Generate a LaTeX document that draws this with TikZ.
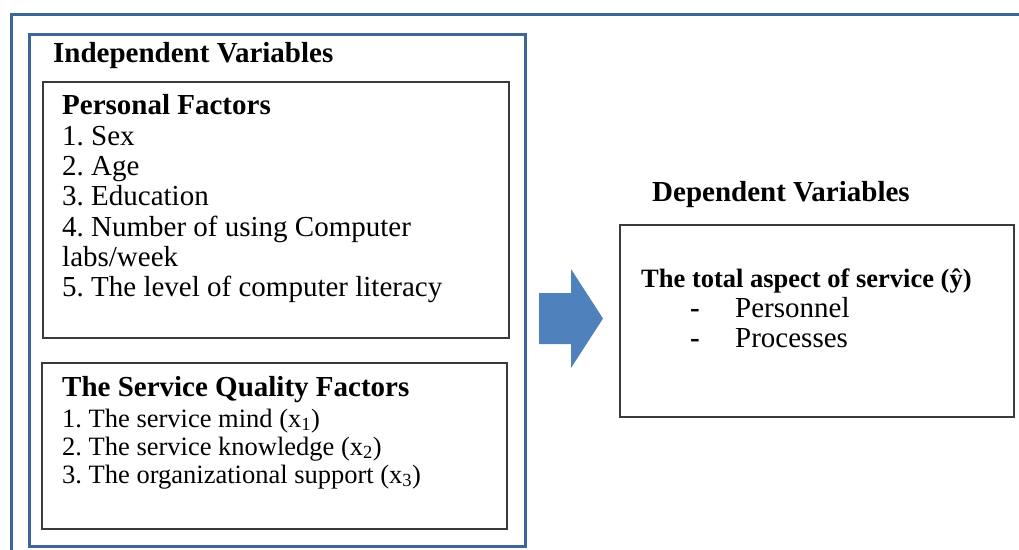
\documentclass[tikz,border=0pt]{standalone}
\usepackage{fontspec}
\setmainfont{Liberation Serif}
\definecolor{frameblue}{HTML}{3D6598}
\definecolor{arrowblue}{HTML}{4F81BD}
\definecolor{boxgray}{HTML}{3A3A3A}
\frenchspacing
\begin{document}
\begin{tikzpicture}[x=1pt,y=-1pt,
  bluebox/.style={draw=frameblue, line width=3pt, rectangle, inner sep=0pt, anchor=north west},
  factorbox/.style={draw=boxgray, line width=1.8pt, rectangle, inner sep=0pt, anchor=north west},
  heading/.style={anchor=base west, inner sep=0pt, font=\fontsize{29}{30}\selectfont\bfseries},
  entry/.style={anchor=base west, inner sep=0pt, font=\fontsize{29}{30}\selectfont},
  smallheading/.style={anchor=base west, inner sep=0pt, font=\fontsize{26.5}{28}\selectfont\bfseries},
  smallentry/.style={anchor=base west, inner sep=0pt, font=\fontsize{26.5}{28}\selectfont}]
\useasboundingbox (0,0) rectangle (1019,549);
\clip (0,0) rectangle (1019,549);

% open outer frame along the top and left
\draw[frameblue, line width=3pt] (11,560) -- (11,14) -- (1030,14);

% independent variables group
\node[bluebox, minimum width=496, minimum height=512] (indep) at (28,33) {};
\node[heading] (indeptitle) at (53,62) {Independent Variables};

% personal factors
\node[factorbox, minimum width=466, minimum height=256] (personal) at (42,81) {};
\node[heading] (pftitle) at (62,114) {Personal Factors};
\node[entry] (pf1) at (62,145) {1. Sex};
\node[entry] (pf2) at (62,175) {2. Age};
\node[entry] (pf3) at (62,205) {3. Education};
\node[entry] (pf4) at (62,236) {4. Number of using Computer};
\node[entry] (pf4b) at (62,266) {labs/week};
\node[entry] (pf5) at (62,296) {5. The level of computer literacy};

% service quality factors
\node[factorbox, minimum width=465, minimum height=166] (service) at (41,362) {};
\node[heading] (sqtitle) at (62,396) {The Service Quality Factors};
\node[smallentry] (sq1) at (62,427) {1. The service mind (x\textsubscript{1})};
\node[smallentry] (sq2) at (62,455) {2. The service knowledge (x\textsubscript{2})};
\node[smallentry] (sq3) at (62,483) {3. The organizational support (x\textsubscript{3})};

% block arrow towards the dependent variables
\fill[arrowblue] (539,293) -- (571,293) -- (571,269) -- (603,318.5)
  -- (571,368) -- (571,344) -- (539,344) -- cycle;

% dependent variables
\node[heading] (deptitle) at (652,201) {Dependent Variables};
\node[factorbox, minimum width=394, minimum height=192] (dep) at (619,224) {};
\node[smallheading] (total) at (641,287) {The total aspect of service (ŷ)};
\node[heading] (dash1) at (690,317) {-};
\node[entry] (pers) at (735,317) {Personnel};
\node[heading] (dash2) at (690,347) {-};
\node[entry] (proc) at (735,347) {Processes};
\end{tikzpicture}
\end{document}
